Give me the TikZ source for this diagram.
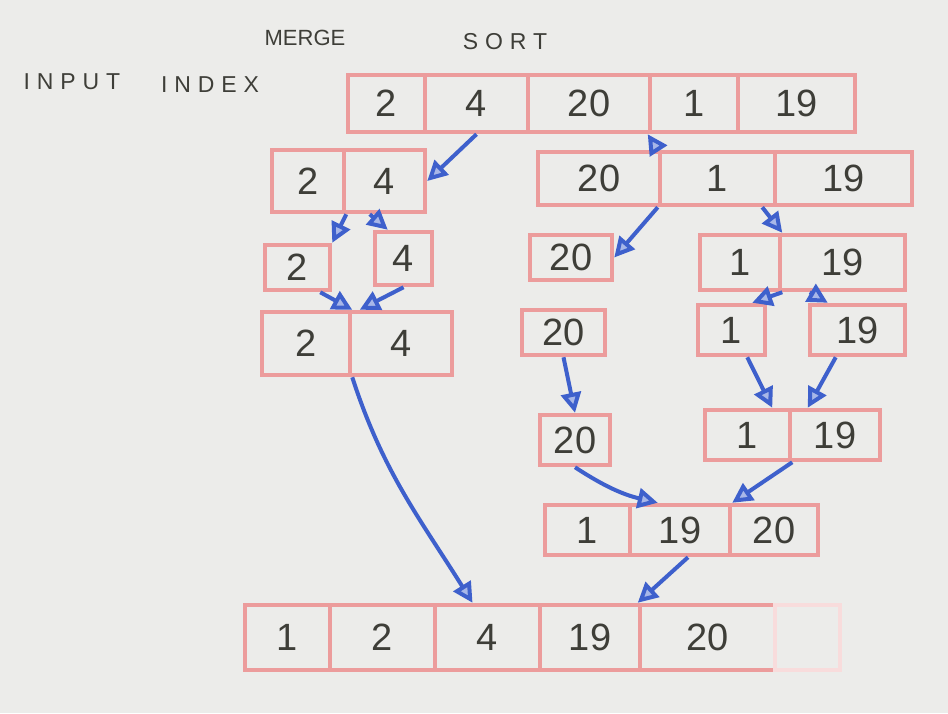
\documentclass[tikz,border=0pt]{standalone}
\usepackage{fontspec}
\setmainfont{Liberation Sans}
\newfontfamily\spaced[LetterSpace=30]{Liberation Sans}
\usetikzlibrary{arrows.meta,fit}
\definecolor{pencilred}{RGB}{236,156,156}
\definecolor{pencilblue}{RGB}{62,96,204}
\definecolor{paper}{RGB}{236,236,234}
\definecolor{ink}{RGB}{62,62,56}
\def\cell#1#2#3#4{\node[cell,fit={#2 #3},label={[num]center:#4}] (#1) {};}
\def\dblue{\draw[arr]}

\begin{document}
\begin{tikzpicture}[x=1pt,y=-1pt,
    cell/.style={draw=pencilred,line width=4.5pt,inner sep=0pt},
    num/.style={text=ink,inner sep=0pt,font=\fontsize{38}{38}\selectfont},
    word/.style={text=ink,font=\spaced\fontsize{23}{23}\selectfont},
    arr/.style={pencilblue,line width=4pt,
      -{Triangle[width=20pt,length=20pt,fill=pencilblue!45]}}]
\fill[paper] (0,0) rectangle (948,713);
% headings
\node[word,font=\fontsize{22}{22}\selectfont] (merge) at (305,38) {MERGE};
\node[word] (sort) at (505,42) {SORT};
\node[word] (input) at (72,82) {INPUT};
\node[word] (index) at (210,85) {INDEX};
% input row
\cell{in1}{(348,75)}{(425,132)}{2}
\cell{in2}{(425,75)}{(528,132)}{4}
\cell{in3}{(528,75)}{(650,132)}{20}
\cell{in4}{(650,75)}{(738,132)}{1}
\cell{in5}{(738,75)}{(855,132)}{19}
% split
\cell{l2a}{(272,150)}{(344,212)}{2}
\cell{l2b}{(344,150)}{(425,212)}{4}
\cell{r2a}{(538,152)}{(660,205)}{20}
\cell{r2b}{(660,152)}{(775,205)}{1}
\cell{r2c}{(775,152)}{(912,205)}{19}
\cell{l3a}{(265,245)}{(330,290)}{2}
\cell{l3b}{(375,232)}{(432,285)}{4}
\cell{r3a}{(530,235)}{(612,280)}{20}
\cell{r3b}{(700,235)}{(780,290)}{1}
\cell{r3c}{(780,235)}{(905,290)}{19}
% merge
\cell{l4a}{(262,312)}{(350,375)}{2}
\cell{l4b}{(350,312)}{(452,375)}{4}
\cell{r4a}{(522,310)}{(605,355)}{20}
\cell{r4b}{(698,305)}{(765,355)}{1}
\cell{r4c}{(810,305)}{(905,355)}{19}
\cell{r5a}{(540,415)}{(610,465)}{20}
\cell{r5b}{(705,410)}{(790,460)}{1}
\cell{r5c}{(790,410)}{(880,460)}{19}
\cell{m6a}{(545,505)}{(630,555)}{1}
\cell{m6b}{(630,505)}{(730,555)}{19}
\cell{m6c}{(730,505)}{(818,555)}{20}
% output row
\cell{out1}{(245,605)}{(330,670)}{1}
\cell{out2}{(330,605)}{(435,670)}{2}
\cell{out3}{(435,605)}{(540,670)}{4}
\cell{out4}{(540,605)}{(640,670)}{19}
\cell{out5}{(640,605)}{(775,670)}{20}
\node[cell,draw=pencilred!35,fit={(775,605) (840,670)}] (out6) {};
% arrows
\dblue (in2.south) -- (l2b.east);
\dblue (r2b.north west) -- (in4.south west);
\dblue (l2a.south east) -- (l3a.north east);
\dblue ([xshift=28]l2b.south west) -- ([xshift=15]l3b.north west);
\dblue (r2b.south west) -- (r3a.east);
\dblue ([xshift=-15]r2b.south east) -- (r3b.north east);
\dblue ([xshift=-12]l3a.south east) -- (l4a.north east);
\dblue (l3b.south) -- ([xshift=12]l4b.north west);
\dblue (r3b.south east) -- ([xshift=-15]r4b.north east);
\dblue ([xshift=32]r3c.south west) -- ([xshift=20]r4c.north west);
\dblue (r4a.south) -- (r5a.north);
\dblue ([xshift=-20]r4b.south east) -- ([xshift=-20]r5b.north east);
\dblue ([xshift=28]r4c.south west) -- ([xshift=20]r5c.north west);
\dblue (r5a.south) to[bend right=10] ([xshift=30]m6b.north west);
\dblue (r5b.south east) -- (m6b.north east);
\dblue (l4a.south east) to[out=-72,in=122] ([xshift=-15]out3.north);
\dblue ([xshift=8]m6b.south) -- (out5.north west);
\end{tikzpicture}
\end{document}
